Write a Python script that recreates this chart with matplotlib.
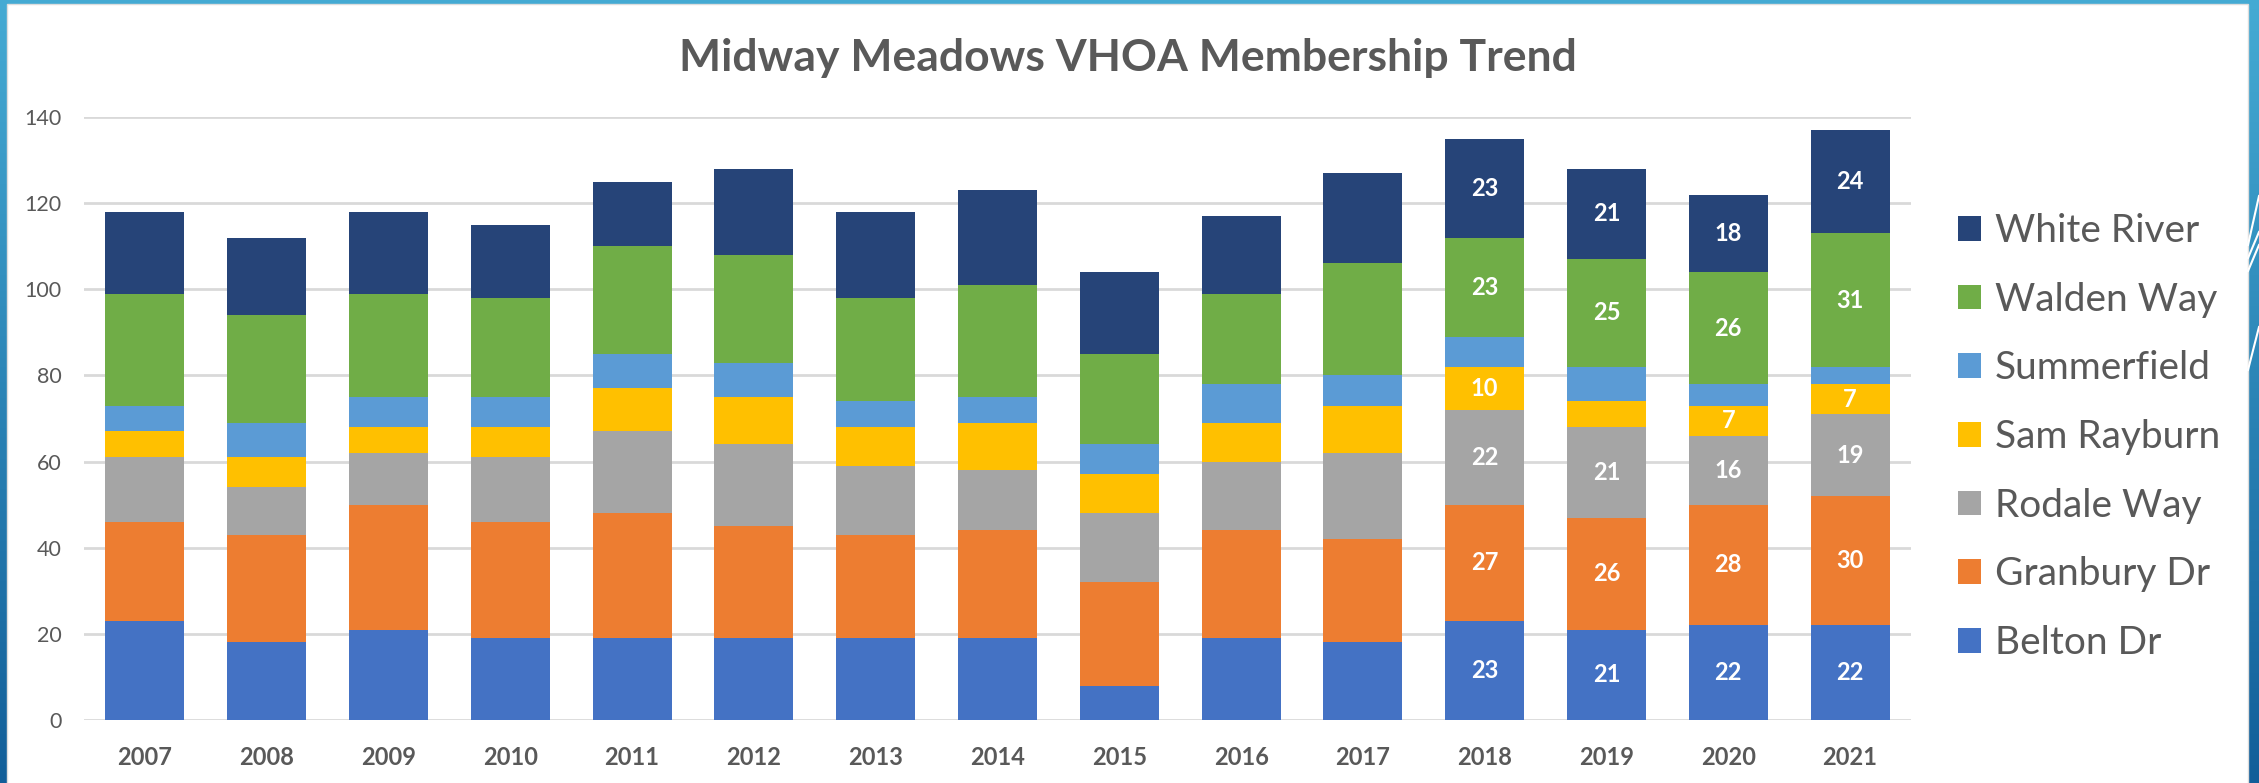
import matplotlib
matplotlib.use("Agg")
import matplotlib.pyplot as plt
import numpy as np
from matplotlib.patches import Rectangle
from matplotlib.lines import Line2D

plt.rcParams["font.family"] = ["Lato", "DejaVu Sans"]

# ---- data ----
years = ["2007", "2008", "2009", "2010", "2011", "2012", "2013", "2014",
         "2015", "2016", "2017", "2018", "2019", "2020", "2021"]
belton = [23, 18, 21, 19, 19, 19, 19, 19, 8, 19, 18, 23, 21, 22, 22]
granbury = [23, 25, 29, 27, 29, 26, 24, 25, 24, 25, 24, 27, 26, 28, 30]
rodale = [15, 11, 12, 15, 19, 19, 16, 14, 16, 16, 20, 22, 21, 16, 19]
sam_rayburn = [6, 7, 6, 7, 10, 11, 9, 11, 9, 9, 11, 10, 6, 7, 7]
summerfield = [6, 8, 7, 7, 8, 8, 6, 6, 7, 9, 7, 7, 8, 5, 4]
walden = [26, 25, 24, 23, 25, 25, 24, 26, 21, 21, 26, 23, 25, 26, 31]
white_river = [19, 18, 19, 17, 15, 20, 20, 22, 19, 18, 21, 23, 21, 18, 24]

series_names = ["Belton Dr", "Granbury Dr", "Rodale Way", "Sam Rayburn",
                "Summerfield", "Walden Way", "White River"]
series_values = [belton, granbury, rodale, sam_rayburn, summerfield, walden, white_river]
colors = ["#4472C4", "#ED7D31", "#A5A5A5", "#FFC000", "#5B9BD5", "#70AD47", "#264478"]

# data labels only shown on the last four years, some segments left blank
labeled_years = ["2018", "2019", "2020", "2021"]
unlabeled_series = ["Summerfield"]
unlabeled_cells = [("Sam Rayburn", "2019")]

TXT = "#595959"
GRID = "#D9D9D9"

fig = plt.figure(figsize=(22.59, 7.83), dpi=100)

# slide background: blue gradient with a white panel on top
bg = fig.add_axes([0, 0, 1, 1], zorder=-10)
grad = np.linspace(0, 1, 256)[:, None, None]
top_c = np.array([0.27, 0.67, 0.83])
bot_c = np.array([0.07, 0.37, 0.60])
bg.imshow(top_c * (1 - grad) + bot_c * grad, aspect="auto", extent=[0, 1, 0, 1])
bg.set_xlim(0, 1)
bg.set_ylim(0, 1)
bg.axis("off")
W, H = 2259, 783
bg.add_patch(Rectangle((7 / W, -0.01), (2248 - 7) / W, 1.01 - 4 / H,
                       facecolor="white", edgecolor="#DDDDDD", lw=1))
for y0, y1 in [(245, 196), (258, 232), (271, 245), (370, 327)]:
    bg.add_line(Line2D([2248 / W, 1], [1 - y0 / H, 1 - y1 / H], color="white", lw=1.5))

ax = fig.add_axes([84 / W, 1 - 720 / H, (1911 - 84) / W, (720 - 117) / H])
x = np.arange(len(years))
bottom = np.zeros(len(years))
handles = []
for name, vals, col in zip(series_names, series_values, colors):
    vals = np.array(vals)
    bars = ax.bar(x, vals, 0.65, bottom=bottom, color=col, label=name, zorder=3)
    handles.append(bars)
    if name not in unlabeled_series:
        for i, yr in enumerate(years):
            if yr in labeled_years and (name, yr) not in unlabeled_cells:
                ax.text(x[i], bottom[i] + vals[i] / 2, str(vals[i]), ha="center", va="center",
                        color="white", fontsize=17, fontweight="bold", zorder=4)
    bottom += vals

ax.set_xlim(-0.5, len(years) - 0.5)
ax.set_ylim(0, 140)
ax.set_yticks(range(0, 141, 20))
ax.set_xticks(x)
ax.set_xticklabels(years, fontsize=17, fontweight="bold", color=TXT)
ax.tick_params(axis="y", length=0, pad=16, labelsize=15.5, labelcolor=TXT)
ax.tick_params(axis="x", length=0, pad=19)
ax.grid(axis="y", color=GRID, lw=2, zorder=0)
for s in ax.spines.values():
    s.set_visible(False)

fig.text(0.4993, 1 - 58 / H, "Midway Meadows VHOA Membership Trend", ha="center", va="center",
         fontsize=32, fontweight="bold", color=TXT)

leg = fig.legend(handles[::-1], series_names[::-1], loc="center left",
                 bbox_to_anchor=(1958 / W, 1 - 437 / H), frameon=False, fontsize=28,
                 handlelength=0.6, handleheight=0.6, handletextpad=0.35,
                 labelspacing=0.84, borderpad=0, borderaxespad=0)
for t in leg.get_texts():
    t.set_color(TXT)

fig.savefig("out.png", dpi=100)
